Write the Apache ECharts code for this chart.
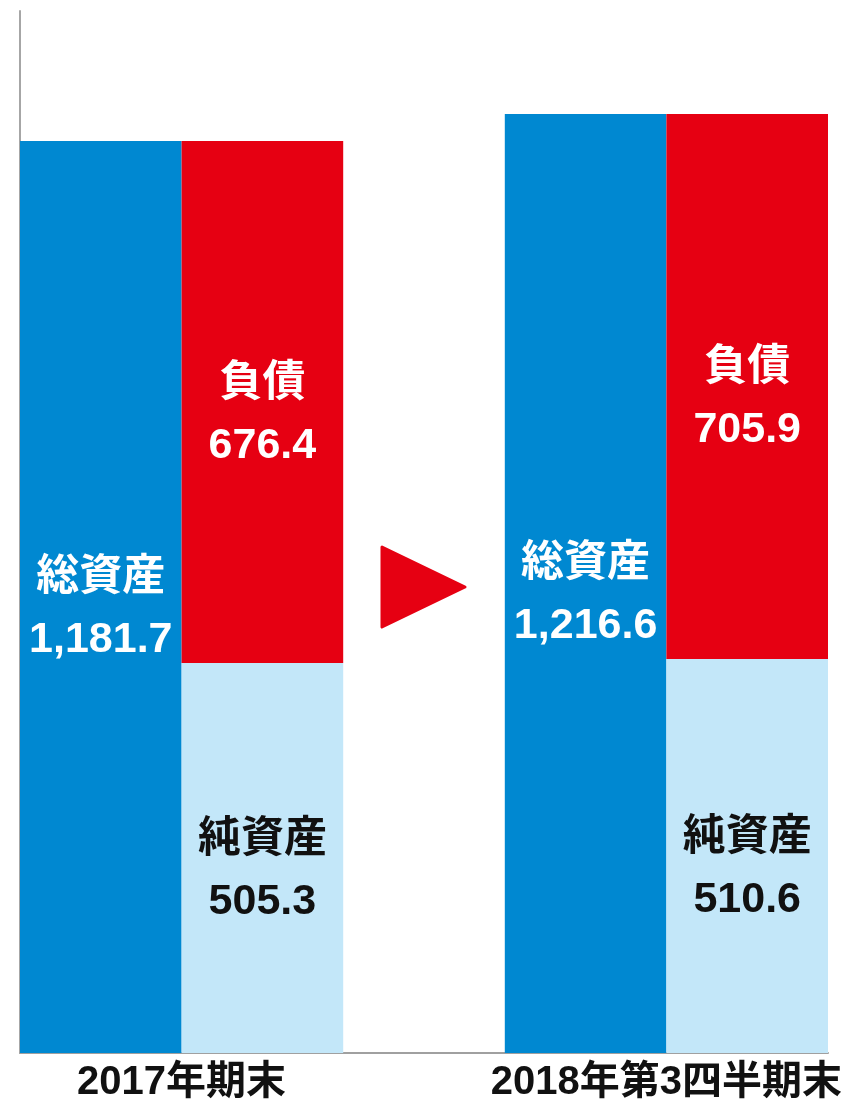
<!DOCTYPE html>
<html><head><meta charset="utf-8">
<script src="https://cdn.jsdelivr.net/npm/echarts@6/dist/echarts.min.js"></script>
<style>html,body{margin:0;padding:0;background:#fff}#c{width:850px;height:1103px}</style>
</head><body><div id="c"></div>
<script>
// slots: 0 = 2017 総資産, 1 = 2017 負債/純資産, 2 = gap, 3 = 2018 総資産, 4 = 2018 負債/純資産
const slots = ['s0', 's1', 's2', 's3', 's4'];
const periodLabels = ['2017年期末', '2018年第3四半期末'];
const totalAssets = [1181.7, '-', '-', 1216.6, '-'];
const netAssets = ['-', 505.3, '-', '-', 510.6];
const liabilities = ['-', 676.4, '-', '-', 705.9];
const seriesNames = ['総資産', '純資産', '負債'];

const FONT = "'Liberation Sans','Noto Sans CJK JP',sans-serif";
function fmt(v){ return Number(v).toLocaleString('en-US',{minimumFractionDigits:1,maximumFractionDigits:1}); }
function lbl(color, offY){
  return {show:true, position:'inside', color:color, fontFamily:FONT, fontWeight:'bold',
    fontSize:43, lineHeight:62, offset:[0,offY],
    formatter:p => p.seriesName + '\n' + fmt(p.value)};
}
const chart = echarts.init(document.getElementById('c'));
chart.setOption({
  animation:false,
  grid:{left:20, right:22, top:11, bottom:50},
  xAxis:[
    {type:'category', data:slots, axisLine:{lineStyle:{color:'#a0a0a0', width:2}},
     axisTick:{show:false}, axisLabel:{show:false}},
    {type:'value', min:0, max:5, interval:1, position:'bottom', axisLine:{show:false},
     axisTick:{show:false}, splitLine:{show:false},
     axisLabel:{margin:10, color:'#111', fontFamily:FONT, fontWeight:'bold', fontSize:40,
       showMinLabel:true, showMaxLabel:true,
       formatter:v => v===1 ? periodLabels[0] : (v===4 ? periodLabels[1] : '')}}
  ],
  yAxis:{type:'value', min:0, max:1350, axisLine:{show:true, lineStyle:{color:'#a6a6a6', width:2}},
    axisTick:{show:false}, axisLabel:{show:false}, splitLine:{show:false}},
  series:[
    {name:seriesNames[0], type:'bar', stack:'t', barWidth:'100%', data:totalAssets,
     itemStyle:{color:'#0088d1'}, label:lbl('#fff',12)},
    {name:seriesNames[1], type:'bar', stack:'t', barWidth:'100%', data:netAssets,
     itemStyle:{color:'#c3e7f9'}, label:lbl('#111',13)},
    {name:seriesNames[2], type:'bar', stack:'t', barWidth:'100%', data:liabilities,
     itemStyle:{color:'#e60012'}, label:lbl('#fff',13)}
  ],
  graphic:[{type:'polygon', shape:{points:[[382,547],[465,587],[382,627]]},
    style:{fill:'#e60012', lineJoin:'round', stroke:'#e60012', lineWidth:3}}]
});
</script></body></html>
